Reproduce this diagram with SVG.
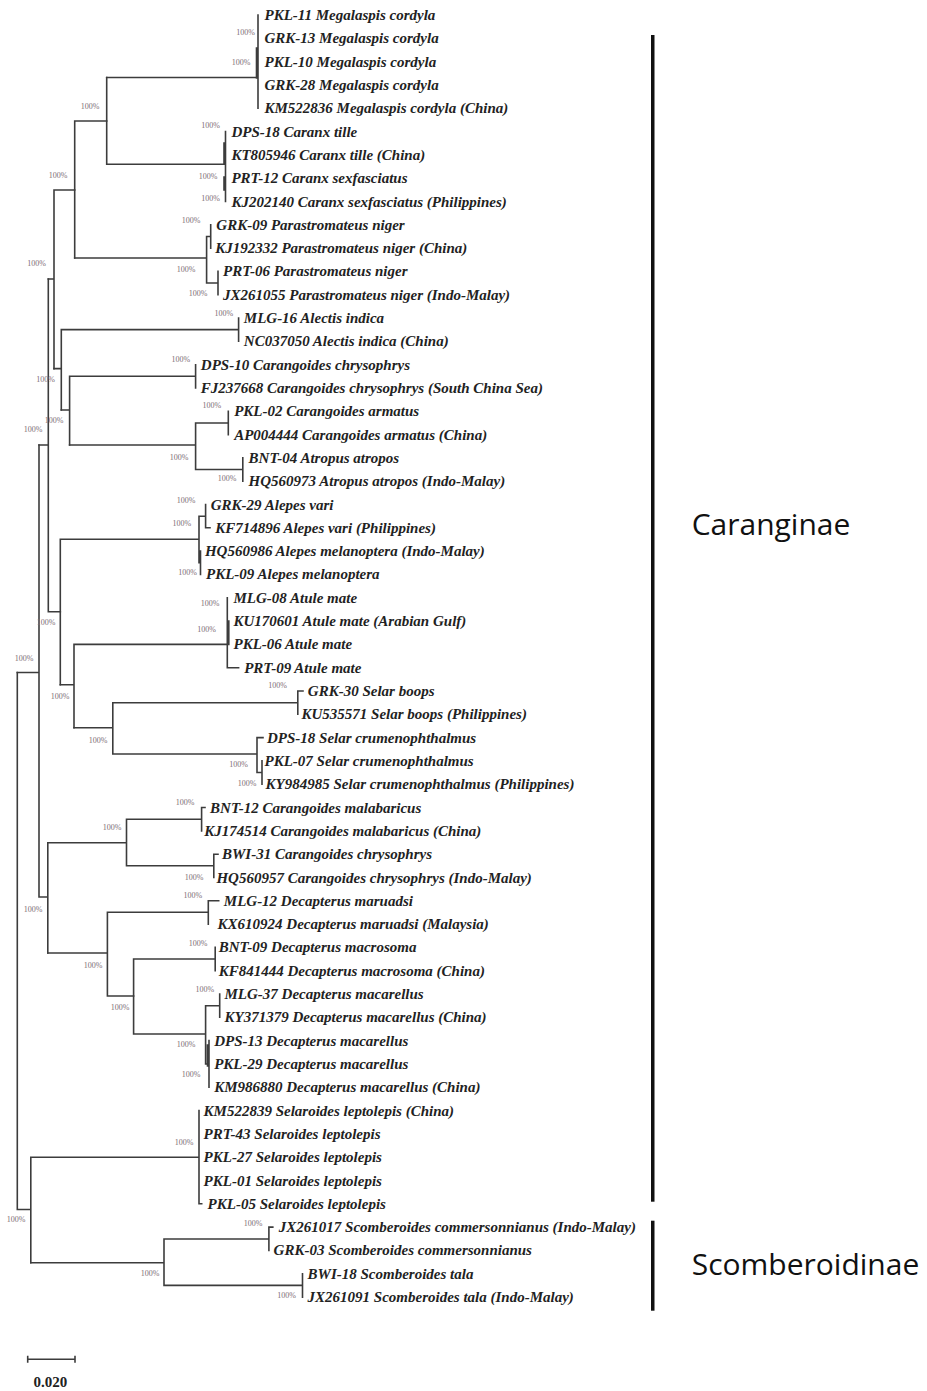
<svg xmlns="http://www.w3.org/2000/svg" width="927" height="1391" viewBox="0 0 927 1391">
<style>
.leaf{font-family:"Liberation Serif","Times New Roman",serif;font-size:15px;font-weight:bold;font-style:italic;fill:#222}
.bs{font-family:"Liberation Serif",serif;font-size:8px;fill:#7d6d75;text-anchor:middle}
.br{stroke:#3c3c3c;stroke-width:1.6;fill:none;stroke-linecap:square}
.clade{font-family:"Open Sans","Noto Sans",sans-serif;font-size:30px;fill:#111}
.bar{fill:#111}
.scale{font-family:"Liberation Serif",serif;font-size:15px;font-weight:bold;fill:#222}
</style>
<rect width="927" height="1391" fill="#fff"/>
<g id="connectors" class="br">
<path d="M106.7,77.5H258M258,15V108.2M256.5,48V78"/>
<path d="M106.7,77.5V164.3M106.7,164.3H225.5M225.5,131.6V201.5M224,143V163M224,177V190"/>
<path d="M74.7,121H106.7M74.7,121V258"/>
<path d="M74.7,258H206.6M206.6,236.5V283M206.6,236.5H210.7M210.7,224.8V248.1M206.6,283H218M218,271.4V294.7"/>
<path d="M54,190H74.7M54,190V368.6M48.3,279H54"/>
<path d="M54,368.6H61.3M61.3,329.6V410M61.3,329.6H238.6M238.6,318V341.3"/>
<path d="M61.3,410H69.6M69.6,376.3V445M69.6,376.3H195.6M195.6,364.7V388"/>
<path d="M69.6,445H195.6M195.6,423V469.5M195.6,423H228.3M228.3,411.3V434.6M195.6,469.5H242.8M242.8,457.9V481.2"/>
<path d="M39,445H48.3M48.3,279V611.8M48.3,611.8H60.3"/>
<path d="M60.3,539.3V684.8M60.3,539.3H199M199,516.2V562.8M199,516.2H205.6M205.6,504.5V527.8M205.6,527.8H210M199,562.8H200.5M200.5,551.1V574.4"/>
<path d="M60.3,684.8H74M74,644.4V727.7M74,644.4H227.3M227.3,597.8V667.7M228.8,621.1V644.4M227.3,667.7H238.6"/>
<path d="M74,727.7H112.8M112.8,702.7V754M112.8,702.7H297.8M297.8,691V714.3M297.8,691H303M112.8,754H257M257,737.6V772.5M257,737.6H263M257,772.5H262M262,760.9V784.2"/>
<path d="M17.3,672.5H39M39,445V897M39,897H47.8M47.8,842.7V953"/>
<path d="M47.8,842.7H126.5M126.5,819.3V865.8M126.5,819.3H201.6M201.6,807.5V830.9M201.6,807.5H205M126.5,865.8H213.8M213.8,854.2V877.5M213.8,854.2H218"/>
<path d="M47.8,953H107.4M107.4,912.3V996M107.4,912.3H208.3M208.3,900.8V924.1M208.3,900.8H218.7M107.4,996H133.6"/>
<path d="M133.6,959V1034M133.6,959H215.2M215.2,947.4V970.7M133.6,1034H205.6M205.6,1005.7V1064M205.6,1005.7H219.7M219.7,994V1017.3M205.6,1064H209M209,1040.6V1087.3M207.5,1045V1066"/>
<path d="M17.3,672.5V1209.5M17.3,1209.5H30.8M30.8,1157.2V1262.7M30.8,1157.2H199M199,1110.6V1203.8M199,1203.8H201.7"/>
<path d="M30.8,1262.7H164M164,1239V1285.4M164,1239H268.9M268.9,1227.1V1250.4M268.9,1227.1H272.8M164,1285.4H302.5M302.5,1273.7V1297.1"/>
</g>
<g id="leaves" class="leaf">
<g id="n1"><text x="264.5" y="20">PKL-11 Megalaspis cordyla</text></g>
<g id="n2"><text x="264.5" y="43.3">GRK-13 Megalaspis cordyla</text></g>
<g id="n3"><text x="264.5" y="66.6">PKL-10 Megalaspis cordyla</text></g>
<g id="n4"><text x="264.5" y="89.9">GRK-28 Megalaspis cordyla</text></g>
<g id="n5"><text x="264.5" y="113.2">KM522836 Megalaspis cordyla (China)</text></g>
<g id="n6"><text x="231.4" y="136.6">DPS-18 Caranx tille</text></g>
<g id="n7"><text x="231.4" y="159.9">KT805946 Caranx tille (China)</text></g>
<g id="n8"><text x="231.4" y="183.2">PRT-12 Caranx sexfasciatus</text></g>
<g id="n9"><text x="231.4" y="206.5">KJ202140 Caranx sexfasciatus (Philippines)</text></g>
<g id="n10"><text x="216.3" y="229.8">GRK-09 Parastromateus niger</text></g>
<g id="n11"><text x="215.2" y="253.1">KJ192332 Parastromateus niger (China)</text></g>
<g id="n12"><text x="223" y="276.4">PRT-06 Parastromateus niger</text></g>
<g id="n13"><text x="223" y="299.7">JX261055 Parastromateus niger (Indo-Malay)</text></g>
<g id="n14"><text x="243.8" y="323">MLG-16 Alectis indica</text></g>
<g id="n15"><text x="243.8" y="346.3">NC037050 Alectis indica (China)</text></g>
<g id="n16"><text x="200.8" y="369.7">DPS-10 Carangoides chrysophrys</text></g>
<g id="n17"><text x="200.8" y="393">FJ237668 Carangoides chrysophrys (South China Sea)</text></g>
<g id="n18"><text x="234.2" y="416.3">PKL-02 Carangoides armatus</text></g>
<g id="n19"><text x="234.2" y="439.6">AP004444 Carangoides armatus (China)</text></g>
<g id="n20"><text x="248.6" y="462.9">BNT-04 Atropus atropos</text></g>
<g id="n21"><text x="248.6" y="486.2">HQ560973 Atropus atropos (Indo-Malay)</text></g>
<g id="n22"><text x="210.7" y="509.5">GRK-29 Alepes vari</text></g>
<g id="n23"><text x="215.2" y="532.8">KF714896 Alepes vari (Philippines)</text></g>
<g id="n24"><text x="204.9" y="556.1">HQ560986 Alepes melanoptera (Indo-Malay)</text></g>
<g id="n25"><text x="206" y="579.4">PKL-09 Alepes melanoptera</text></g>
<g id="n26"><text x="233.5" y="602.8">MLG-08 Atule mate</text></g>
<g id="n27"><text x="233.5" y="626.1">KU170601 Atule mate (Arabian Gulf)</text></g>
<g id="n28"><text x="233.5" y="649.4">PKL-06 Atule mate</text></g>
<g id="n29"><text x="244.2" y="672.7">PRT-09 Atule mate</text></g>
<g id="n30"><text x="307.8" y="696">GRK-30 Selar boops</text></g>
<g id="n31"><text x="301.5" y="719.3">KU535571 Selar boops (Philippines)</text></g>
<g id="n32"><text x="267" y="742.6">DPS-18 Selar crumenophthalmus</text></g>
<g id="n33"><text x="264.5" y="765.9">PKL-07 Selar crumenophthalmus</text></g>
<g id="n34"><text x="265.6" y="789.2">KY984985 Selar crumenophthalmus (Philippines)</text></g>
<g id="n35"><text x="210.1" y="812.5">BNT-12 Carangoides malabaricus</text></g>
<g id="n36"><text x="204.2" y="835.9">KJ174514 Carangoides malabaricus (China)</text></g>
<g id="n37"><text x="222" y="859.2">BWI-31 Carangoides chrysophrys</text></g>
<g id="n38"><text x="216.4" y="882.5">HQ560957 Carangoides chrysophrys (Indo-Malay)</text></g>
<g id="n39"><text x="223.8" y="905.8">MLG-12 Decapterus maruadsi</text></g>
<g id="n40"><text x="217.6" y="929.1">KX610924 Decapterus maruadsi (Malaysia)</text></g>
<g id="n41"><text x="218.7" y="952.4">BNT-09 Decapterus macrosoma</text></g>
<g id="n42"><text x="218.7" y="975.7">KF841444 Decapterus macrosoma (China)</text></g>
<g id="n43"><text x="224.5" y="999">MLG-37 Decapterus macarellus</text></g>
<g id="n44"><text x="224.5" y="1022.3">KY371379 Decapterus macarellus (China)</text></g>
<g id="n45"><text x="214.2" y="1045.6">DPS-13 Decapterus macarellus</text></g>
<g id="n46"><text x="214.2" y="1069">PKL-29 Decapterus macarellus</text></g>
<g id="n47"><text x="214.2" y="1092.3">KM986880 Decapterus macarellus (China)</text></g>
<g id="n48"><text x="203.6" y="1115.6">KM522839 Selaroides leptolepis (China)</text></g>
<g id="n49"><text x="203.6" y="1138.9">PRT-43 Selaroides leptolepis</text></g>
<g id="n50"><text x="203.6" y="1162.2">PKL-27 Selaroides leptolepis</text></g>
<g id="n51"><text x="203.6" y="1185.5">PKL-01 Selaroides leptolepis</text></g>
<g id="n52"><text x="207.6" y="1208.8">PKL-05 Selaroides leptolepis</text></g>
<g id="n53"><text x="278.8" y="1232.1">JX261017 Scomberoides commersonnianus (Indo-Malay)</text></g>
<g id="n54"><text x="273.6" y="1255.4">GRK-03 Scomberoides commersonnianus</text></g>
<g id="n55"><text x="307.6" y="1278.7">BWI-18 Scomberoides tala</text></g>
<g id="n56"><text x="307.6" y="1302.1">JX261091 Scomberoides tala (Indo-Malay)</text></g>
</g>
<g id="support" class="bs">
<text x="245.5" y="35">100%</text>
<text x="241" y="64.5">100%</text>
<text x="210.7" y="128">100%</text>
<text x="208" y="178.5">100%</text>
<text x="210.7" y="201">100%</text>
<text x="90" y="109">100%</text>
<text x="58" y="178.3">100%</text>
<text x="191" y="222.8">100%</text>
<text x="186" y="272">100%</text>
<text x="198" y="295.5">100%</text>
<text x="223.8" y="315.5">100%</text>
<text x="36.5" y="266.3">100%</text>
<text x="180.8" y="362">100%</text>
<text x="45.5" y="381.8">100%</text>
<text x="211.8" y="407.8">100%</text>
<text x="54" y="422.8">100%</text>
<text x="33" y="431.8">100%</text>
<text x="179" y="459.5">100%</text>
<text x="227" y="481">100%</text>
<text x="186" y="502.8">100%</text>
<text x="181.8" y="525.5">100%</text>
<text x="187.7" y="574.5">100%</text>
<text x="210" y="606">100%</text>
<text x="206.6" y="632">100%</text>
<text x="46" y="624.8">100%</text>
<text x="24" y="661">100%</text>
<text x="60" y="698.8">100%</text>
<text x="98" y="742.8">100%</text>
<text x="277.5" y="687.8">100%</text>
<text x="238.6" y="766.8">100%</text>
<text x="247.1" y="785.5">100%</text>
<text x="185" y="804.8">100%</text>
<text x="112" y="829.5">100%</text>
<text x="194.2" y="880">100%</text>
<text x="33" y="911.8">100%</text>
<text x="192.8" y="897.8">100%</text>
<text x="93" y="967.8">100%</text>
<text x="198" y="946">100%</text>
<text x="120" y="1009.5">100%</text>
<text x="204.9" y="992">100%</text>
<text x="186" y="1046.8">100%</text>
<text x="191" y="1076.8">100%</text>
<text x="184" y="1144.5">100%</text>
<text x="16" y="1221.8">100%</text>
<text x="253" y="1226">100%</text>
<text x="150" y="1275.5">100%</text>
<text x="286.7" y="1297.8">100%</text>
</g>
<g id="caranginae">
<rect class="bar" x="651" y="35" width="3.5" height="1166.7"/>
<text class="clade" x="691.7" y="535">Caranginae</text>
</g>
<g id="scomberoidinae">
<rect class="bar" x="651" y="1220.7" width="3.5" height="90"/>
<text class="clade" x="691.7" y="1275">Scomberoidinae</text>
</g>
<g id="scalebar">
<path class="br" d="M27.7,1359.3H75M27.7,1356.5V1362M75,1356.5V1362"/>
<text class="scale" x="50.4" y="1387" text-anchor="middle">0.020</text>
</g>
</svg>
